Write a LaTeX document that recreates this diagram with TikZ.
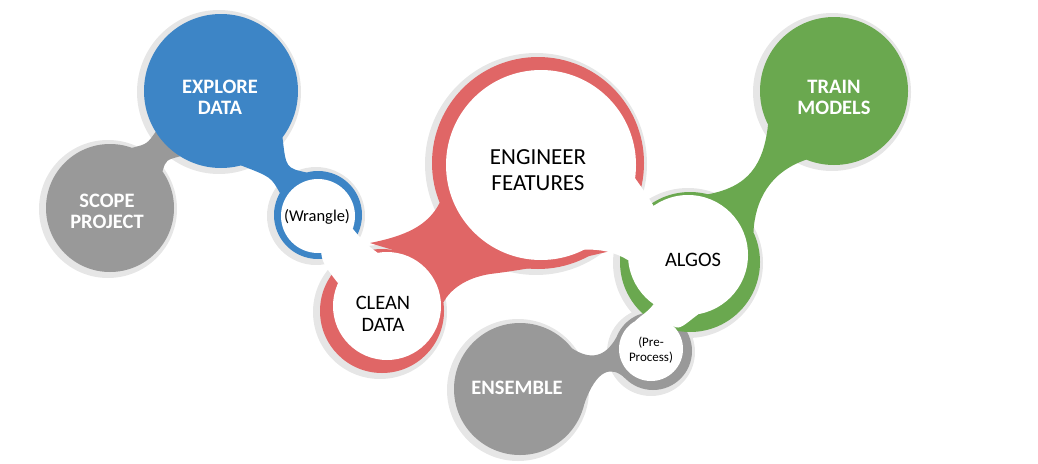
\documentclass[tikz,border=0pt]{standalone}
\usepackage{fontspec}
\setmainfont{Carlito}

\definecolor{grayc}{HTML}{999999}
\definecolor{bluec}{HTML}{3D85C6}
\definecolor{redc}{HTML}{E06666}
\definecolor{greenc}{HTML}{6AA84F}
\definecolor{haloc}{HTML}{E6E6E6}

\pgfdeclarelayer{shade}
\pgfdeclarelayer{neck}
\pgfdeclarelayer{front}
\pgfsetlayers{shade,neck,main,front}

\begin{document}
\begin{tikzpicture}[x=1pt,y=-1pt,
disc/.style={circle,inner sep=0pt,outer sep=0pt,fill=#1},
hole/.style={circle,inner sep=0pt,outer sep=0pt,fill=white},
boldlabel/.style={text=white,inner sep=0pt,align=center,font=\bfseries\fontsize{20.5}{21}\selectfont},
ringlabel/.style={text=black,inner sep=0pt,align=center}]

\useasboundingbox (0,0) rectangle (1038,463);

% coloured discs
\node[disc=grayc,minimum size=128pt] (scope) at (110,208) {};
\node[disc=bluec,minimum size=154pt] (explore) at (221,91) {};
\node[disc=bluec,minimum size=88pt] (wrangle) at (318,215) {};
\node[disc=redc,minimum size=124pt] (clean) at (382,311) {};
\node[disc=redc,minimum size=212pt] (eng) at (538,163) {};
\node[disc=grayc,minimum size=78pt] (pre) at (653,351) {};
\node[disc=greenc,minimum size=140pt] (algos) at (690,262) {};
\node[disc=greenc,minimum size=148pt] (train) at (834,91) {};
\node[disc=grayc,minimum size=132pt] (ensemble) at (520,389) {};
\coordinate (spike) at (370,243);
\coordinate (tailTip) at (615,250);

% white insides of the rings
\begin{pgfonlayer}{front}
\node[hole,minimum size=74pt] (wrangleIn) at (318,216) {};
\node[hole,minimum size=108pt] (cleanIn) at (387,306) {};
\node[hole,minimum size=190pt] (engIn) at (541,165) {};
\node[hole,minimum size=120pt] (algosIn) at (688,255) {};
\node[hole,minimum size=64pt] (preIn) at (651,349) {};
\end{pgfonlayer}

% halo behind the discs
\begin{pgfonlayer}{shade}
\foreach \n/\r in {scope/64,explore/77,wrangle/44,clean/62,eng/106,pre/39,algos/70,train/74,ensemble/66}
  \fill[haloc] ([xshift=-2pt,yshift=-1pt]\n.center) circle[radius=\r+5];
\end{pgfonlayer}

% necks
\begin{pgfonlayer}{neck}
\fill[grayc] (scope.70) .. controls (147,144) .. (explore.212) -- (explore.238)
  .. controls (166,160) .. (scope.35) -- cycle;
\fill[bluec] (explore.-37) .. controls (286,168) .. (wrangle.105) -- (wrangle.150)
  .. controls (271,177) .. (explore.-75) -- cycle;
\fill[redc] (spike) .. controls (405,236) and (428,226) .. (eng.202) -- (tailTip)
  .. controls (585,257) and (540,268) .. (490,274)
  .. controls (465,278) and (450,290) .. (clean.8) -- (clean.80) -- cycle;
\fill[greenc] (train.207) .. controls (762,180) and (735,198) .. (algos.113) -- (algos.25)
  .. controls (755,200) and (770,172) .. (train.248) -- cycle;
\fill[grayc] (ensemble.38) .. controls (590,360) and (605,358) .. (pre.159) -- (pre.224)
  .. controls (612,366) and (597,368) .. (ensemble.-13) -- cycle;
\end{pgfonlayer}

\begin{pgfonlayer}{front}
% open channels between the rings
\fill[white] (wrangleIn.-20) .. controls (360,238) and (368,246) .. (cleanIn.100) -- (cleanIn.155)
  .. controls (326,268) and (322,262) .. (wrangleIn.-85) -- cycle;
\fill[white] (engIn.-8) .. controls (645,192) and (650,200) .. (algosIn.125) -- (algosIn.185)
  .. controls (615,252) and (600,249) .. (engIn.-63) -- cycle;
\fill[white] (algosIn.235) .. controls (648,312) and (640,316) .. (preIn.120) -- (preIn.45)
  .. controls (680,330) and (684,325) .. (algosIn.280) -- cycle;

% labels
\node[boldlabel] (scopeText) at (107,211) {SCOPE\\PROJECT};
\node[boldlabel] (exploreText) at (220,97) {EXPLORE\\DATA};
\node[ringlabel,font=\fontsize{16.5}{18}\selectfont] (wrangleText) at (317,217) {(Wrangle)};
\node[ringlabel,font=\fontsize{23}{26.5}\selectfont] (engText) at (538,170) {ENGINEER\\FEATURES};
\node[ringlabel,font=\fontsize{20.5}{22.5}\selectfont] (cleanText) at (383,314) {CLEAN\\DATA};
\node[ringlabel,font=\fontsize{20.5}{22.5}\selectfont] (algosText) at (693,260) {ALGOS};
\node[boldlabel] (trainText) at (834,97) {TRAIN\\MODELS};
\node[ringlabel,font=\fontsize{13}{14.5}\selectfont] (preText) at (651,350) {(Pre-\\Process)};
\node[boldlabel] (ensembleText) at (517,388) {ENSEMBLE};
\end{pgfonlayer}

\end{tikzpicture}
\end{document}
